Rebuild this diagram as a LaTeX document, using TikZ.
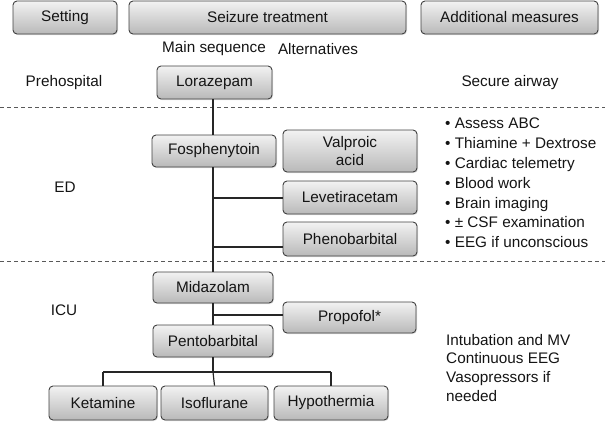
\documentclass[tikz,border=0pt]{standalone}
\usepackage{fontspec}
\setmainfont{Liberation Sans}
\usetikzlibrary{shadows}
\begin{document}
\begin{tikzpicture}[x=1pt,y=-1pt,
  every node/.style={font=\fontsize{15.3}{19.8}\selectfont, text=black!92},
  box/.style={draw=black!75, line width=0.9pt, rounded corners=4pt,
    top color=gray!10, bottom color=gray!55, inner sep=0pt, align=center,
    drop shadow={opacity=0.25, shadow xshift=1pt, shadow yshift=-1pt}},
  conn/.style={draw=black!85, line width=1.2pt},
  sep/.style={draw=black!65, line width=1pt, dash pattern=on 4pt off 3pt},
  lbl/.style={inner sep=0pt}]
\useasboundingbox (0,0) rectangle (605,421);
% header
\node[box, minimum width=104pt, minimum height=33pt] (set) at (65,17.5) {Setting};
\node[box, minimum width=277pt, minimum height=33pt] (seiz) at (267.5,17.5) {Seizure treatment};
\node[box, minimum width=177pt, minimum height=33pt] (add) at (509.5,17.5) {Additional measures};
\node[lbl] (mainseq) at (214,49) {Main sequence};
\node[lbl] (alt) at (318,49) {Alternatives};
% separators
\coordinate (s1l) at (0,107); \coordinate (s1r) at (605,107);
\coordinate (s2l) at (0,261); \coordinate (s2r) at (605,261);
\draw[sep] (s1l) -- (s1r);
\draw[sep] (s2l) -- (s2r);
% settings
\node[lbl] (pre) at (64,83) {Prehospital};
\node[lbl] (ed) at (65,187) {ED};
\node[lbl] (icu) at (64,310) {ICU};
% main boxes
\node[box, minimum width=115pt, minimum height=33pt] (lor) at (214.5,82.5) {Lorazepam};
\node[box, minimum width=124pt, minimum height=32pt] (fos) at (214,151) {Fosphenytoin};
\node[box, minimum width=134pt, minimum height=42pt, font=\fontsize{15.3}{18}\selectfont] (val) at (350,151) {Valproic\\acid};
\node[box, minimum width=134pt, minimum height=33pt] (lev) at (350,197.5) {Levetiracetam};
\node[box, minimum width=134pt, minimum height=34pt] (phe) at (350,239) {Phenobarbital};
\node[box, minimum width=120pt, minimum height=31pt] (mid) at (213,287.5) {Midazolam};
\node[box, minimum width=133pt, minimum height=31pt] (pro) at (349.5,317.5) {Propofol*};
\node[box, minimum width=120pt, minimum height=32pt] (pen) at (213,341) {Pentobarbital};
\node[box, minimum width=108pt, minimum height=34pt] (ket) at (103,403) {Ketamine};
\node[box, minimum width=107pt, minimum height=34pt] (iso) at (214.5,403) {Isoflurane};
\node[box, minimum width=114pt, minimum height=34pt] (hyp) at (331,403) {Hypothermia};
% connectors
\coordinate (blev) at (213,198);
\coordinate (bphe) at (213,247);
\coordinate (bpro) at (213,315);
\coordinate (brk) at (213,372);
\coordinate (brkl) at (103,372);
\coordinate (brkr) at (331,372);
\draw[conn] (lor.south -| 213,0) -- (fos.north -| 213,0);
\draw[conn] (fos.south -| 213,0) -- (mid.north -| 213,0);
\draw[conn] (mid.south -| 213,0) -- (pen.north -| 213,0);
\draw[conn] (blev) -- (blev -| lev.west);
\draw[conn] (bphe) -- (bphe -| phe.west);
\draw[conn] (bpro) -- (bpro -| pro.west);
\draw[conn] (pen.south) -- (brk);
\draw[conn] (brkl) -- (brkr);
\draw[conn] (brkl) -- (ket.north);
\draw[conn] (brk) -- (iso.north);
\draw[conn] (brkr) -- (hyp.north);
% additional measures
\node[lbl] (air) at (510,83) {Secure airway};
\node[lbl, anchor=north west, align=left] (bul) at (445,118) {%
• Assess ABC\\
• Thiamine + Dextrose\\
• Cardiac telemetry\\
• Blood work\\
• Brain imaging\\
• ± CSF examination\\
• EEG if unconscious};
\node[lbl, anchor=north west, align=left, font=\fontsize{15.3}{18.7}\selectfont] (icum) at (446,334) {%
Intubation and MV\\
Continuous EEG\\
Vasopressors if\\
needed};
\end{tikzpicture}
\end{document}
